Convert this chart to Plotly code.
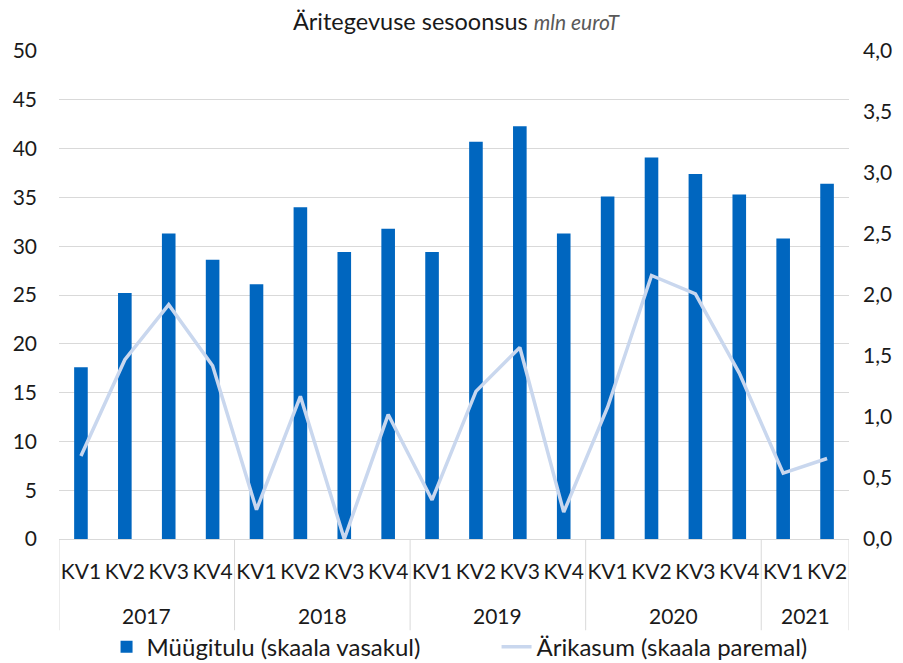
import plotly.graph_objects as go

years = ["2017"]*4 + ["2018"]*4 + ["2019"]*4 + ["2020"]*4 + ["2021"]*2
quarters = ["KV1", "KV2", "KV3", "KV4"]*4 + ["KV1", "KV2"]
revenue = [17.6, 25.2, 31.3, 28.6,
           26.1, 34.0, 29.4, 31.8,
           29.4, 40.7, 42.3, 31.3,
           35.1, 39.1, 37.4, 35.3,
           30.8, 36.4]
profit = [0.68, 1.47, 1.92, 1.42,
          0.24, 1.17, 0.00, 1.02,
          0.32, 1.21, 1.57, 0.22,
          1.08, 2.16, 2.01, 1.36,
          0.54, 0.66]
left_ticks = [0, 5, 10, 15, 20, 25, 30, 35, 40, 45, 50]
right_ticks = [0, 0.5, 1.0, 1.5, 2.0, 2.5, 3.0, 3.5, 4.0]
right_labels = ["0,0", "0,5", "1,0", "1,5", "2,0", "2,5", "3,0", "3,5", "4,0"]

FONT = "Lato, 'Open Sans', sans-serif"
GRID = "#d9d9d9"
TXT = "#1a1a1a"

idx = list(range(len(quarters)))

fig = go.Figure()
fig.add_trace(go.Bar(
    x=idx, y=revenue, name="Müügitulu (skaala vasakul)",
    marker=dict(color="#0066bf", line=dict(width=0)), width=0.31,
))
fig.add_trace(go.Scatter(
    x=idx, y=profit, name="Ärikasum (skaala paremal)",
    mode="lines", line=dict(color="#c9d7ee", width=3.5), yaxis="y2",
))

# year groups: labels and dividers derived from the data
groups = []
for i, y in enumerate(years):
    if not groups or groups[-1][0] != y:
        groups.append([y, i, i])
    else:
        groups[-1][2] = i

shapes = []
annotations = []
bounds = [groups[0][1] - 0.5] + [g[2] + 0.5 for g in groups]
for b in bounds:
    shapes.append(dict(type="line", xref="x", yref="paper", x0=b, x1=b,
                       y0=0, y1=-0.187, line=dict(color=GRID, width=1)))
for name, a, b in groups:
    annotations.append(dict(text=name, xref="x", yref="paper", x=(a + b) / 2,
                            y=-0.156, yanchor="middle", showarrow=False,
                            font=dict(size=21, color=TXT, family=FONT)))

fig.update_layout(
    width=903, height=663,
    paper_bgcolor="white", plot_bgcolor="white",
    font=dict(family=FONT, size=20, color=TXT),
    margin=dict(l=59, r=54, t=51, b=124),
    title=dict(
        text="Äritegevuse sesoonsus <span style='font-size:21px;color:#595959'><i>mln euroT</i></span>",
        x=0.505, xanchor="center", y=0.967, yanchor="middle",
        font=dict(size=23.5, color=TXT, family=FONT),
    ),
    xaxis=dict(
        range=[-0.5, len(idx) - 0.5], tickvals=idx, ticktext=quarters,
        showgrid=False, showline=True, linecolor=GRID, zeroline=False,
        tickfont=dict(size=21), automargin=False, ticks="", ticklabelstandoff=14,
    ),
    yaxis=dict(
        range=[0, 50], tickvals=left_ticks, showgrid=True, gridcolor=GRID,
        gridwidth=1, zeroline=False, tickfont=dict(size=21), ticklabelstandoff=21,
        automargin=False, showline=False,
    ),
    yaxis2=dict(
        range=[0, 4], tickvals=right_ticks, ticktext=right_labels, overlaying="y",
        side="right", showgrid=False, zeroline=False, tickfont=dict(size=21),
        automargin=False, ticklabelstandoff=13,
    ),
    legend=dict(orientation="h", xref="container", yref="container",
                x=0.118, xanchor="left", y=0.024, yanchor="middle",
                font=dict(size=24), itemwidth=30, tracegroupgap=0,
                entrywidth=345, entrywidthmode="pixels",
                bgcolor="rgba(0,0,0,0)"),
    shapes=shapes,
    annotations=annotations,
)

fig.write_html("out.html", config={"displayModeBar": False},
               post_script="document.body.style.margin='0px';")
